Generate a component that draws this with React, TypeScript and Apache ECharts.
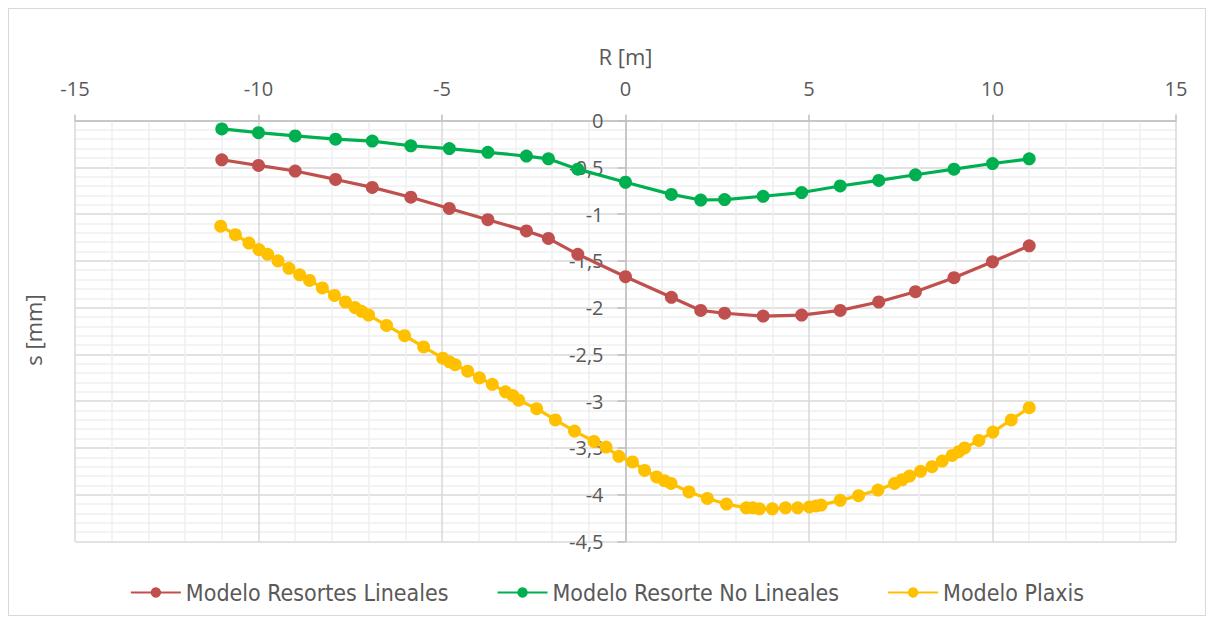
import React, { useEffect, useRef } from "react";
import * as echarts from "echarts";

const xTickLabels = ["-15", "-10", "-5", "0", "5", "10", "15"];

const xLin = [-11, -10, -9, -7.9, -6.9, -5.85, -4.8, -3.75, -2.7, -2.1, -1.3, 0, 1.25, 2.05, 2.7, 3.75, 4.8, 5.85, 6.9, 7.9, 8.95, 10, 11];
const yResortesLineales = [-0.42, -0.48, -0.54, -0.63, -0.715, -0.82, -0.94, -1.06, -1.18, -1.26, -1.43, -1.67, -1.89, -2.03, -2.06, -2.09, -2.08, -2.03, -1.94, -1.83, -1.68, -1.51, -1.34];
const yResorteNoLineales = [-0.09, -0.13, -0.165, -0.2, -0.22, -0.27, -0.3, -0.34, -0.38, -0.41, -0.52, -0.66, -0.79, -0.85, -0.845, -0.81, -0.77, -0.7, -0.64, -0.58, -0.52, -0.46, -0.41];

const xPlaxis = [-11.03, -10.63, -10.26, -9.99, -9.75, -9.47, -9.17, -8.88, -8.61, -8.26, -7.93, -7.63, -7.37, -7.19, -7.0, -6.51, -6.02, -5.5, -4.98, -4.8, -4.64, -4.3, -3.98, -3.63, -3.27, -3.07, -2.91, -2.42, -1.91, -1.39, -0.86, -0.53, -0.18, 0.19, 0.52, 0.85, 1.06, 1.24, 1.73, 2.23, 2.75, 3.29, 3.47, 3.65, 4.0, 4.36, 4.69, 5.01, 5.19, 5.33, 5.85, 6.35, 6.88, 7.33, 7.54, 7.74, 8.04, 8.35, 8.63, 8.9, 9.08, 9.24, 9.63, 10.01, 10.51, 11.0];
const yPlaxis = [-1.13, -1.22, -1.31, -1.38, -1.43, -1.5, -1.58, -1.65, -1.71, -1.79, -1.87, -1.94, -2.0, -2.04, -2.08, -2.19, -2.3, -2.42, -2.54, -2.58, -2.61, -2.68, -2.75, -2.82, -2.9, -2.94, -2.99, -3.08, -3.2, -3.32, -3.43, -3.49, -3.59, -3.65, -3.74, -3.81, -3.85, -3.88, -3.97, -4.04, -4.1, -4.14, -4.14, -4.15, -4.15, -4.14, -4.14, -4.13, -4.12, -4.11, -4.06, -4.01, -3.95, -3.88, -3.84, -3.8, -3.75, -3.7, -3.64, -3.58, -3.54, -3.5, -3.42, -3.33, -3.2, -3.07];

const seriesNames = ["Modelo Resortes Lineales", "Modelo Resorte No Lineales", "Modelo Plaxis"];
const seriesColors = ["#C0504D", "#00B050", "#FFC000"];

const pairs = (xs: number[], ys: number[]) => xs.map((x, i) => [x, ys[i]]);

const GRID_W = 1101;

export default function App() {
  const ref = useRef<HTMLDivElement>(null);
  useEffect(() => {
    if (!ref.current) return;
    const chart = echarts.init(ref.current, null, { renderer: "svg" });
    const labelFont = { color: "#595959", fontSize: 20, fontFamily: "Open Sans" };
    const mk = (i: number, data: number[][]) => ({
      name: seriesNames[i],
      type: "line",
      data,
      symbol: "circle",
      symbolSize: 13,
      lineStyle: { width: 3.2, color: seriesColors[i] },
      itemStyle: { color: seriesColors[i] },
      z: 2 + i,
    });
    chart.setOption({
      animation: false,
      backgroundColor: "#ffffff",
      grid: { left: 66, top: 111.5, width: GRID_W, height: 421 },
      xAxis: {
        type: "value",
        position: "top",
        min: -15,
        max: 15,
        interval: 5,
        name: "R [m]",
        nameLocation: "middle",
        nameGap: 54,
        nameTextStyle: { color: "#595959", fontSize: 22, fontFamily: "Open Sans" },
        axisLine: { show: true, onZero: false, lineStyle: { color: "#bfbfbf", width: 1.5 } },
        axisTick: { show: true, length: 6, lineStyle: { color: "#bfbfbf", width: 1.5 } },
        axisLabel: {
          ...labelFont,
          margin: 22,
          formatter: (v: number) => xTickLabels[xTickLabels.indexOf(String(v))] ?? String(v),
        },
        splitLine: { show: true, lineStyle: { color: "#d9d9d9", width: 1.5 } },
        minorTick: { show: false, splitNumber: 5 },
        minorSplitLine: { show: true, lineStyle: { color: "#efefef", width: 1.5 } },
      },
      yAxis: {
        type: "value",
        position: "left",
        offset: -GRID_W / 2,
        min: -4.5,
        max: 0,
        interval: 0.5,
        axisLine: { show: true, onZero: false, lineStyle: { color: "#bfbfbf", width: 1.5 } },
        axisTick: { show: true, length: 8, lineStyle: { color: "#bfbfbf", width: 1.5 } },
        axisLabel: {
          ...labelFont,
          margin: 22,
          formatter: (v: number) => String(v).replace(".", ","),
        },
        splitLine: { show: true, lineStyle: { color: "#d9d9d9", width: 1.5 } },
        minorTick: { show: false, splitNumber: 5 },
        minorSplitLine: { show: true, lineStyle: { color: "#efefef", width: 1.5 } },
      },
      legend: {
        bottom: 6,
        left: "center",
        padding: [5, 0, 5, 12],
        itemWidth: 50,
        itemHeight: 13,
        itemGap: 48,
        textStyle: { color: "#595959", fontSize: 23, fontFamily: "Liberation Sans Narrow, DejaVu Sans Condensed, sans-serif" },
        data: seriesNames,
      },
      graphic: [
        {
          type: "text",
          x: 24,
          y: 321,
          rotation: Math.PI / 2,
          style: {
            text: "s [mm]",
            fill: "#595959",
            font: "22px 'Open Sans'",
            textAlign: "center",
            textVerticalAlign: "middle",
          },
        },
      ],
      series: [
        mk(0, pairs(xLin, yResortesLineales)),
        mk(1, pairs(xLin, yResorteNoLineales)),
        mk(2, pairs(xPlaxis, yPlaxis)),
      ],
    });
    return () => chart.dispose();
  }, []);
  return (
    <div style={{ width: 1198, height: 608, border: "1px solid #d9d9d9", boxSizing: "border-box" }}>
      <div ref={ref} style={{ width: 1196, height: 606 }} />
    </div>
  );
}
